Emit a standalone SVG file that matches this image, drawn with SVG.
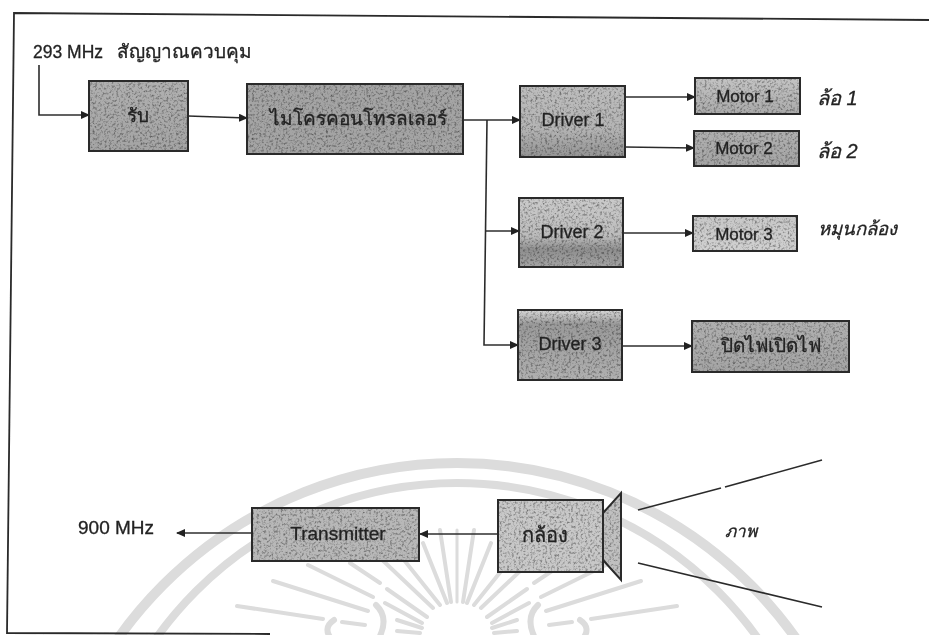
<svg xmlns="http://www.w3.org/2000/svg" width="929" height="635" viewBox="0 0 929 635">
<style>
text{font-family:"Liberation Sans","Noto Sans",sans-serif;fill:#222;stroke:#222;stroke-width:.3}
.c{text-anchor:middle}
.b{fill:none;stroke:#2a2a2a;stroke-width:2}
.g{filter:url(#grain)}
.w{fill:none;stroke:#dcdcdc;stroke-linecap:round}
.l{fill:none;stroke:#2c2c2c;stroke-width:1.6}
.a{marker-end:url(#arr)}
</style>
<defs>
<filter id="grain" x="0" y="0" width="100%" height="100%" color-interpolation-filters="sRGB">
<feTurbulence type="fractalNoise" baseFrequency=".42" numOctaves="3" seed="4"/>
<feColorMatrix values="1.1 0 0 0 .42 1.1 0 0 0 .42 1.1 0 0 0 .42 0 0 0 0 1"/>
<feBlend in2="SourceGraphic" mode="multiply"/>
<feComposite in2="SourceAlpha" operator="in"/>
</filter>
<filter id="soft"><feGaussianBlur stdDeviation=".35"/></filter>
<marker id="arr" markerWidth="9" markerHeight="8" refX="8" refY="4" orient="auto" markerUnits="userSpaceOnUse"><path d="M0 0L9 4L0 8Z" fill="#222"/></marker>
<linearGradient id="gA" x1="0" y1="0" x2="0" y2="1"><stop offset="0" stop-color="#b0b0b0"/><stop offset="1" stop-color="#a4a4a4"/></linearGradient>
<linearGradient id="gD1" x1="0" y1="0" x2="0" y2="1"><stop offset="0" stop-color="#bdbdbd"/><stop offset=".6" stop-color="#b4b4b4"/><stop offset="1" stop-color="#949494"/></linearGradient>
<linearGradient id="gD2" x1="0" y1="0" x2="0" y2="1"><stop offset="0" stop-color="#cacaca"/><stop offset=".55" stop-color="#bcbcbc"/><stop offset=".75" stop-color="#8f8f8f"/><stop offset="1" stop-color="#a4a4a4"/></linearGradient>
<linearGradient id="gD3" x1="0" y1="0" x2="0" y2="1"><stop offset="0" stop-color="#d8d8d8"/><stop offset=".2" stop-color="#9a9a9a"/><stop offset="1" stop-color="#b0b0b0"/></linearGradient>
<linearGradient id="gM" x1="0" y1="0" x2="0" y2="1"><stop offset="0" stop-color="#c4c4c4"/><stop offset="1" stop-color="#aaaaaa"/></linearGradient>
<linearGradient id="gC" x1="0" y1="0" x2="0" y2="1"><stop offset="0" stop-color="#c8c8c8"/><stop offset="1" stop-color="#d0d0d0"/></linearGradient>
<g id="ray">
<path class="w" stroke-width="4" d="M237 606L323 619M273 581L368 611M308 565L373 597M387 589L427 617M385 603L422 623M342 622L365 625M397 620L422 628M397 631L420 633M350 563L380 583M377 555L433 608M400 555L440 605M423 543L447 603M440 530L451 602"/>
<path class="w" stroke-width="6" d="M334 620Q322 628 332 640M376 605Q390 618 378 640"/>
</g>
</defs>
<rect width="929" height="635" fill="#fff"/>
<g id="watermark">
<circle class="w" cx="457" cy="878" r="415" stroke-width="10"/>
<circle class="w" cx="457" cy="852" r="369" stroke-width="8"/>
<use href="#ray"/>
<use href="#ray" transform="matrix(-1 0 0 1 914 0)"/>
<path class="w" stroke-width="3" d="M457 530V602"/>
</g>
<g filter="url(#soft)">
<g id="frame"><path fill="none" stroke="#2a2a2a" stroke-width="1.8" d="M929 20L14 13L7 633L270 634"/></g>
<g id="connectors">
<path class="l a" d="M39 65V115H89"/>
<path class="l a" d="M188 116L247 118"/>
<path class="l a" d="M463 120H520"/>
<path class="l a" d="M487 120L484 345H518"/>
<path class="l a" d="M486 231H519"/>
<path class="l a" d="M625 97H695"/>
<path class="l a" d="M625 147L694 148"/>
<path class="l a" d="M623 233H693"/>
<path class="l a" d="M622 346H692"/>
<path class="l a" d="M497 534H420"/>
<path class="l a" d="M252 533H177"/>
<path class="l" d="M638 510L721 488M725 487L822 460M638 563L822 607"/>
</g>
<g id="n-rx"><rect class="g" x="89" y="81" width="99" height="70" fill="url(#gA)"/><rect class="b" x="89" y="81" width="99" height="70"/><text class="c" x="138" y="122" font-size="19">รับ</text></g>
<g id="n-mcu"><rect class="g" x="247" y="84" width="216" height="70" fill="#a4a4a4"/><rect class="b" x="247" y="84" width="216" height="70"/><text class="c" x="358" y="125" font-size="19">ไมโครคอนโทรลเลอร์</text></g>
<g id="n-d1"><rect class="g" x="520" y="86" width="105" height="71" fill="url(#gD1)"/><rect class="b" x="520" y="86" width="105" height="71"/><text class="c" x="573" y="126" font-size="18">Driver 1</text></g>
<g id="n-m1"><rect class="g" x="695" y="78" width="105" height="36" fill="url(#gM)"/><rect class="b" x="695" y="78" width="105" height="36"/><text class="c" x="745" y="102" font-size="17">Motor 1</text></g>
<g id="n-m2"><rect class="g" x="694" y="131" width="105" height="35" fill="url(#gA)"/><rect class="b" x="694" y="131" width="105" height="35"/><text class="c" x="744" y="154" font-size="17">Motor 2</text></g>
<g id="n-d2"><rect class="g" x="519" y="198" width="104" height="69" fill="url(#gD2)"/><rect class="b" x="519" y="198" width="104" height="69"/><text class="c" x="572" y="238" font-size="18">Driver 2</text></g>
<g id="n-m3"><rect class="g" x="693" y="216" width="104" height="35" fill="url(#gC)"/><rect class="b" x="693" y="216" width="104" height="35"/><text class="c" x="744" y="240" font-size="17">Motor 3</text></g>
<g id="n-d3"><rect class="g" x="518" y="310" width="104" height="70" fill="url(#gD3)"/><rect class="b" x="518" y="310" width="104" height="70"/><text class="c" x="570" y="350" font-size="18">Driver 3</text></g>
<g id="n-light"><rect class="g" x="692" y="321" width="157" height="51" fill="url(#gA)"/><rect class="b" x="692" y="321" width="157" height="51"/><text class="c" x="771" y="352" font-size="19">ปิดไฟเปิดไฟ</text></g>
<g id="n-tx"><rect class="g" x="252" y="508" width="167" height="53" fill="#b8b8b8"/><rect class="b" x="252" y="508" width="167" height="53"/><text class="c" x="338" y="540" font-size="19">Transmitter</text></g>
<g id="n-cam"><polygon class="g" points="603,513 621,493 621,580 603,560" fill="#c0c0c0"/><polygon class="b" points="603,513 621,493 621,580 603,560"/><rect class="g" x="498" y="500" width="105" height="72" fill="#c8c8c8"/><rect class="b" x="498" y="500" width="105" height="72"/><text class="c" x="545" y="542" font-size="20">กล้อง</text></g>
<g id="labels">
<text x="33" y="58" font-size="17.5">293 MHz</text>
<text x="117" y="58" font-size="19">สัญญาณควบคุม</text>
<text x="817" y="105" font-size="20" font-style="italic">ล้อ 1</text>
<text x="817" y="158" font-size="20" font-style="italic">ล้อ 2</text>
<text x="818" y="235" font-size="18.5" font-style="italic">หมุนกล้อง</text>
<text x="725" y="537" font-size="17" font-style="italic">ภาพ</text>
<text x="78" y="534" font-size="19">900 MHz</text>
</g>
</g>
</svg>
